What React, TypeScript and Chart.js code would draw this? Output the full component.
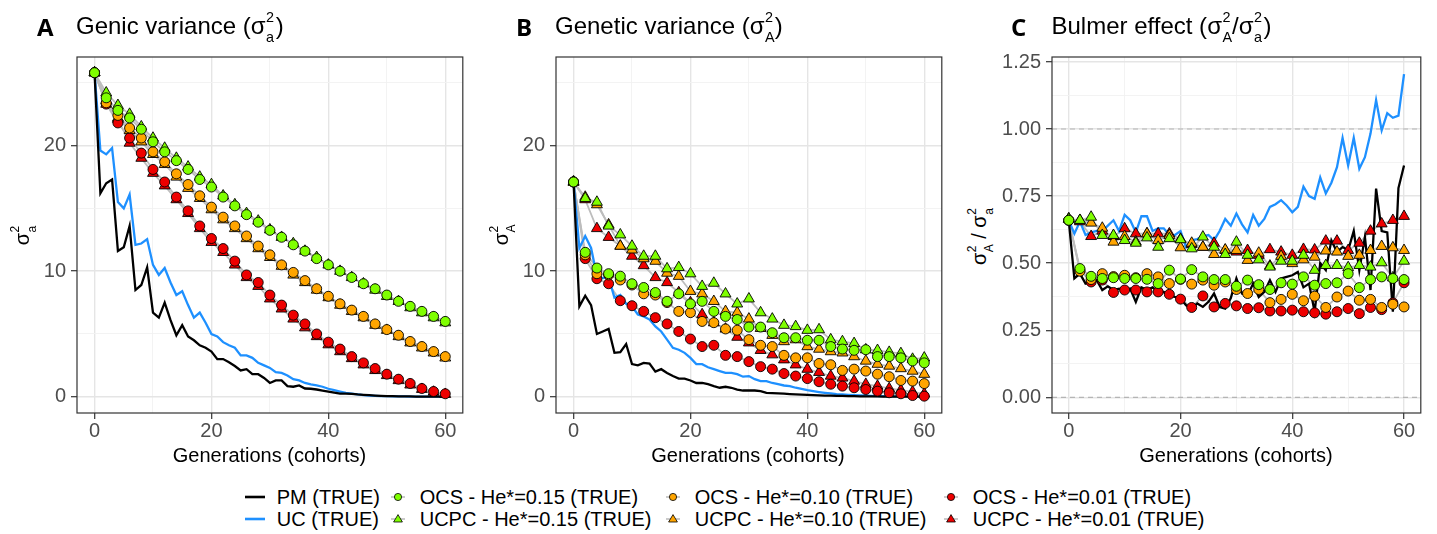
import React, { useEffect, useRef } from 'react';
import { Chart, registerables } from 'chart.js';

Chart.register(...registerables);

const FONT = "'Liberation Sans', Arial, Helvetica, sans-serif";

// ---------- categories ----------
const generations = [
  0, 1, 2, 3, 4, 5, 6, 7, 8, 9, 10, 11, 12, 13, 14, 15, 16, 17, 18, 19, 20,
  21, 22, 23, 24, 25, 26, 27, 28, 29, 30, 31, 32, 33, 34, 35, 36, 37, 38, 39, 40,
  41, 42, 43, 44, 45, 46, 47, 48, 49, 50, 51, 52, 53, 54, 55, 56, 57, 58, 59, 60,
];
const markerGenerations = [
  0, 2, 4, 6, 8, 10, 12, 14, 16, 18, 20, 22, 24, 26, 28, 30, 32, 34, 36, 38, 40,
  42, 44, 46, 48, 50, 52, 54, 56, 58, 60,
];

// ---------- Panel A: genic variance ----------
const pmA = [25.8, 16.2, 17.0, 17.3, 11.6, 11.9, 13.6, 8.5, 8.9, 10.3, 6.7, 6.3, 7.5, 6.1, 4.9, 5.7, 4.8, 4.5, 4.1, 3.9, 3.6, 3.0, 3.0, 2.75, 2.45, 2.1, 2.2, 1.8, 1.8, 1.5, 1.1, 1.3, 1.3, 0.85, 0.8, 0.9, 0.66, 0.64, 0.58, 0.5, 0.42, 0.34, 0.26, 0.26, 0.24, 0.19, 0.16, 0.13, 0.1, 0.08, 0.06, 0.05, 0.04, 0.03, 0.03, 0.02, 0.02, 0.01, 0.01, 0.01, 0.01];
const ucA = [25.8, 19.6, 19.3, 19.8, 15.5, 15.0, 16.1, 12.1, 12.2, 12.55, 10.5, 9.7, 10.25, 9.1, 8.1, 8.4, 7.3, 6.3, 6.7, 5.9, 5.0, 4.8, 4.35, 4.1, 3.9, 3.3, 3.3, 3.1, 2.7, 2.5, 2.3, 1.96, 1.9, 1.7, 1.4, 1.3, 1.1, 0.98, 0.9, 0.8, 0.64, 0.53, 0.42, 0.32, 0.26, 0.19, 0.13, 0.1, 0.08, 0.06, 0.05, 0.04, 0.03, 0.03, 0.02, 0.02, 0.02, 0.01, 0.01, 0.01, 0.01];
const ocs15A = [25.8, 23.8, 22.8, 22.2, 21.3, 20.3, 19.5, 18.8, 18.1, 17.3, 16.7, 15.9, 15.2, 14.5, 13.9, 13.25, 12.7, 12.1, 11.6, 11.0, 10.5, 10.0, 9.5, 9.0, 8.6, 8.1, 7.6, 7.2, 6.8, 6.4, 6.0];
const ucpc15A = [25.8, 24.2, 23.2, 22.5, 21.5, 20.6, 19.8, 19.0, 18.3, 17.5, 16.9, 16.0, 15.3, 14.6, 14.0, 13.3, 12.7, 12.2, 11.6, 11.1, 10.5, 10.0, 9.5, 9.0, 8.5, 8.0, 7.6, 7.1, 6.7, 6.3, 5.9];
const ocs10A = [25.8, 23.4, 22.4, 21.4, 20.6, 19.5, 18.7, 17.75, 16.9, 16.0, 15.1, 14.3, 13.6, 12.8, 12.0, 11.3, 10.5, 9.9, 9.25, 8.6, 8.0, 7.4, 6.9, 6.4, 5.8, 5.35, 4.9, 4.4, 4.0, 3.6, 3.2];
const ucpc10A = [25.8, 23.3, 22.2, 21.2, 20.3, 19.3, 18.5, 17.5, 16.6, 15.8, 14.9, 14.1, 13.4, 12.6, 11.8, 11.1, 10.4, 9.7, 9.1, 8.5, 7.9, 7.3, 6.8, 6.3, 5.7, 5.3, 4.8, 4.3, 3.9, 3.5, 3.1];
const ocs01A = [25.8, 23.3, 21.8, 20.6, 19.4, 18.1, 17.1, 15.9, 14.8, 13.6, 12.6, 11.8, 10.8, 9.7, 9.1, 8.1, 7.3, 6.5, 5.8, 5.0, 4.35, 3.8, 3.2, 2.7, 2.25, 1.8, 1.4, 1.06, 0.66, 0.42, 0.24];
const ucpc01A = [25.8, 23.6, 22.1, 20.2, 19.0, 17.8, 16.8, 15.7, 14.6, 13.4, 12.3, 11.5, 10.5, 9.5, 8.8, 7.8, 7.0, 6.2, 5.5, 4.8, 4.15, 3.6, 3.05, 2.55, 2.1, 1.7, 1.3, 0.95, 0.6, 0.38, 0.2];

// ---------- Panel B: genetic variance ----------
const pmB = [17.1, 7.2, 8.05, 7.3, 5.0, 5.2, 5.4, 3.5, 3.55, 4.2, 2.6, 2.5, 2.7, 2.65, 2.0, 2.2, 1.9, 1.65, 1.45, 1.45, 1.3, 1.1, 1.1, 1.0, 0.85, 0.72, 0.8, 0.72, 0.58, 0.5, 0.5, 0.5, 0.45, 0.32, 0.3, 0.28, 0.25, 0.22, 0.2, 0.18, 0.16, 0.14, 0.12, 0.1, 0.09, 0.08, 0.07, 0.06, 0.05, 0.04, 0.04, 0.03, 0.03, 0.02, 0.02, 0.02, 0.01, 0.01, 0.01, 0.01, 0.01];
const ucB = [17.1, 11.85, 12.8, 11.85, 9.6, 9.45, 9.5, 7.9, 8.1, 7.4, 7.2, 6.55, 6.4, 6.15, 5.6, 5.2, 4.55, 3.9, 3.75, 3.5, 3.1, 2.6, 2.6, 2.35, 2.2, 2.05, 1.9, 1.9, 1.8, 1.6, 1.65, 1.4, 1.25, 1.25, 1.1, 1.0, 0.9, 0.85, 0.72, 0.64, 0.53, 0.45, 0.38, 0.32, 0.27, 0.22, 0.19, 0.16, 0.13, 0.11, 0.09, 0.08, 0.06, 0.05, 0.05, 0.04, 0.03, 0.03, 0.02, 0.02, 0.02];
const ocs15B = [17.1, 11.5, 10.25, 9.8, 9.6, 9.0, 8.7, 8.3, 7.6, 8.2, 7.4, 7.6, 6.8, 6.4, 6.15, 5.55, 5.55, 5.1, 4.7, 4.7, 4.5, 4.5, 4.0, 3.8, 3.7, 3.75, 3.2, 3.2, 3.1, 2.85, 2.7];
const ucpc15B = [17.1, 15.8, 15.5, 13.6, 12.9, 12.0, 11.2, 11.2, 10.2, 10.3, 9.8, 8.8, 9.05, 8.2, 7.4, 7.8, 6.7, 6.2, 5.7, 5.6, 5.3, 5.35, 4.55, 4.4, 4.25, 3.75, 3.7, 3.55, 3.45, 3.0, 3.1];
const ocs10B = [17.1, 11.3, 9.8, 9.7, 9.3, 8.9, 8.2, 8.1, 7.5, 6.8, 6.7, 6.0, 5.9, 5.4, 5.3, 4.55, 4.1, 4.0, 3.3, 3.1, 3.1, 2.65, 2.55, 2.1, 2.2, 2.05, 1.8, 1.6, 1.3, 1.25, 1.05];
const ucpc10B = [17.1, 15.9, 15.3, 13.7, 12.0, 11.7, 11.0, 10.8, 9.85, 9.6, 8.4, 8.2, 7.6, 6.8, 6.7, 6.2, 5.45, 4.9, 4.4, 4.55, 4.0, 3.8, 3.6, 3.5, 3.2, 2.85, 2.6, 2.45, 2.25, 2.05, 1.8];
const ocs01B = [17.1, 11.0, 9.4, 9.0, 7.65, 7.25, 6.8, 6.3, 5.8, 5.2, 4.6, 4.0, 4.1, 3.3, 3.2, 2.8, 2.4, 2.2, 1.85, 1.65, 1.45, 1.2, 1.0, 0.85, 0.72, 0.58, 0.45, 0.32, 0.24, 0.1, 0.05];
const ucpc01B = [17.1, 15.7, 13.4, 12.7, 12.0, 11.2, 10.45, 9.5, 9.1, 8.3, 7.5, 6.55, 5.9, 5.4, 4.75, 4.3, 3.7, 3.35, 2.95, 2.55, 2.2, 1.95, 1.65, 1.5, 1.25, 1.0, 0.85, 0.66, 0.53, 0.4, 0.24];

// ---------- Panel C: Bulmer effect ----------
const pmC = [0.66, 0.443, 0.461, 0.424, 0.43, 0.437, 0.4, 0.414, 0.4, 0.405, 0.4, 0.405, 0.356, 0.41, 0.4, 0.41, 0.393, 0.393, 0.38, 0.374, 0.368, 0.343, 0.331, 0.35, 0.337, 0.356, 0.387, 0.337, 0.331, 0.37, 0.443, 0.387, 0.38, 0.424, 0.374, 0.393, 0.437, 0.393, 0.443, 0.449, 0.455, 0.467, 0.41, 0.424, 0.319, 0.5, 0.474, 0.585, 0.542, 0.56, 0.548, 0.62, 0.474, 0.598, 0.4, 0.778, 0.62, 0.615, 0.319, 0.78, 0.864];
const ucC = [0.66, 0.61, 0.655, 0.605, 0.615, 0.62, 0.62, 0.64, 0.66, 0.62, 0.68, 0.66, 0.615, 0.675, 0.675, 0.62, 0.63, 0.63, 0.605, 0.605, 0.62, 0.56, 0.585, 0.59, 0.6, 0.605, 0.585, 0.62, 0.665, 0.64, 0.685, 0.645, 0.615, 0.68, 0.64, 0.665, 0.71, 0.72, 0.735, 0.715, 0.69, 0.71, 0.785, 0.75, 0.74, 0.82, 0.76, 0.8, 0.858, 0.967, 0.864, 0.967, 0.852, 0.895, 0.983, 1.108, 0.995, 1.059, 1.042, 1.05, 1.205];
const ocs15C = [0.66, 0.48, 0.451, 0.443, 0.446, 0.443, 0.443, 0.44, 0.424, 0.474, 0.441, 0.476, 0.449, 0.439, 0.439, 0.414, 0.437, 0.42, 0.402, 0.427, 0.422, 0.449, 0.418, 0.424, 0.427, 0.461, 0.409, 0.439, 0.449, 0.443, 0.439];
const ucpc15C = [0.665, 0.66, 0.672, 0.604, 0.604, 0.585, 0.575, 0.595, 0.56, 0.592, 0.588, 0.554, 0.598, 0.56, 0.533, 0.579, 0.53, 0.513, 0.486, 0.508, 0.508, 0.53, 0.474, 0.492, 0.492, 0.484, 0.492, 0.486, 0.502, 0.446, 0.508];
const ocs10C = [0.66, 0.47, 0.439, 0.461, 0.45, 0.455, 0.446, 0.461, 0.449, 0.424, 0.44, 0.422, 0.437, 0.418, 0.43, 0.402, 0.387, 0.402, 0.353, 0.365, 0.384, 0.36, 0.377, 0.335, 0.374, 0.396, 0.362, 0.365, 0.335, 0.347, 0.337];
const ucpc10C = [0.665, 0.66, 0.65, 0.631, 0.579, 0.6, 0.58, 0.61, 0.585, 0.604, 0.558, 0.575, 0.56, 0.533, 0.55, 0.548, 0.511, 0.538, 0.49, 0.526, 0.499, 0.513, 0.523, 0.546, 0.542, 0.526, 0.53, 0.548, 0.563, 0.558, 0.548];
const ocs01C = [0.66, 0.474, 0.43, 0.437, 0.391, 0.4, 0.4, 0.393, 0.393, 0.384, 0.366, 0.335, 0.378, 0.337, 0.35, 0.341, 0.331, 0.334, 0.322, 0.322, 0.325, 0.319, 0.315, 0.31, 0.319, 0.331, 0.312, 0.335, 0.327, 0.352, 0.427];
const ucpc01C = [0.665, 0.655, 0.6, 0.62, 0.6, 0.629, 0.61, 0.61, 0.61, 0.61, 0.59, 0.57, 0.56, 0.575, 0.548, 0.542, 0.548, 0.53, 0.551, 0.542, 0.53, 0.552, 0.55, 0.583, 0.583, 0.548, 0.575, 0.62, 0.647, 0.66, 0.675];

// ---------- tick values ----------
const xMajorTicks = [0, 20, 40, 60];
const xMinorTicks = [10, 30, 50];
const varMajorTicks = [0, 10, 20];
const varMinorTicks = [5, 15, 25];
const ratioMajorTicks = [0, 0.25, 0.5, 0.75, 1, 1.25];
const ratioMinorTicks = [0.125, 0.375, 0.625, 0.875, 1.125];
const ratioRefLines = [0, 1];

// ---------- series styles ----------
const GREEN = '#7FFF00';
const ORANGE = '#FFA500';
const RED = '#EE0000';
const BLUE = '#1E90FF';
const GREY_LINE = '#bdbdbd';

type MarkerKey = 'ocs15' | 'ocs10' | 'ocs01' | 'ucpc15' | 'ucpc10' | 'ucpc01';
const markerSeries: { key: MarkerKey; label: string; color: string; shape: 'circle' | 'triangle' }[] = [
  { key: 'ocs15', label: 'OCS - He*=0.15 (TRUE)', color: GREEN, shape: 'circle' },
  { key: 'ocs10', label: 'OCS - He*=0.10 (TRUE)', color: ORANGE, shape: 'circle' },
  { key: 'ocs01', label: 'OCS - He*=0.01 (TRUE)', color: RED, shape: 'circle' },
  { key: 'ucpc15', label: 'UCPC - He*=0.15 (TRUE)', color: GREEN, shape: 'triangle' },
  { key: 'ucpc10', label: 'UCPC - He*=0.10 (TRUE)', color: ORANGE, shape: 'triangle' },
  { key: 'ucpc01', label: 'UCPC - He*=0.01 (TRUE)', color: RED, shape: 'triangle' },
];

type PanelSpec = {
  pm: number[];
  uc: number[];
  markers: Record<MarkerKey, number[]>;
  yMin: number;
  yMax: number;
  yMajor: number[];
  yMinor: number[];
  decimals: number;
  refLines: number[];
  left: number;
  width: number;
  yAxisWidth: number;
};

const CANVAS_TOP = 32;
const CANVAS_H = 426;

const panels: PanelSpec[] = [
  {
    pm: pmA, uc: ucA,
    markers: { ocs15: ocs15A, ocs10: ocs10A, ocs01: ocs01A, ucpc15: ucpc15A, ucpc10: ucpc10A, ucpc01: ucpc01A },
    yMin: -1.29, yMax: 27.05, yMajor: varMajorTicks, yMinor: varMinorTicks, decimals: 0, refLines: [],
    left: 20, width: 450, yAxisWidth: 57,
  },
  {
    pm: pmB, uc: ucB,
    markers: { ocs15: ocs15B, ocs10: ocs10B, ocs01: ocs01B, ucpc15: ucpc15B, ucpc10: ucpc10B, ucpc01: ucpc01B },
    yMin: -1.29, yMax: 27.05, yMajor: varMajorTicks, yMinor: varMinorTicks, decimals: 0, refLines: [],
    left: 500, width: 449, yAxisWidth: 56,
  },
  {
    pm: pmC, uc: ucC,
    markers: { ocs15: ocs15C, ocs10: ocs10C, ocs01: ocs01C, ucpc15: ucpc15C, ucpc10: ucpc10C, ucpc01: ucpc01C },
    yMin: -0.0584, yMax: 1.2686, yMajor: ratioMajorTicks, yMinor: ratioMinorTicks, decimals: 2, refLines: ratioRefLines,
    left: 1000, width: 428, yAxisWidth: 52,
  },
];

const isIn = (v: number, list: number[]) => list.some((m) => Math.abs(m - v) < 1e-9);
const pair = (xs: number[], ys: number[]) => xs.map((x, i) => ({ x, y: ys[i] }));

const borderPlugin = {
  id: 'panelBorder',
  afterDraw(chart: any) {
    const { ctx, chartArea } = chart;
    ctx.save();
    ctx.strokeStyle = '#333333';
    ctx.lineWidth = 1.2;
    ctx.strokeRect(chartArea.left, chartArea.top, chartArea.right - chartArea.left, chartArea.bottom - chartArea.top);
    ctx.restore();
  },
};

const refLinePlugin = {
  id: 'refLines',
  beforeDatasetsDraw(chart: any, _args: any, opts: any) {
    const values: number[] = (opts && opts.values) || [];
    if (!values.length) return;
    const { ctx, chartArea } = chart;
    const yScale = chart.scales.y;
    ctx.save();
    ctx.strokeStyle = '#b5b5b5';
    ctx.lineWidth = 1.1;
    ctx.setLineDash([5, 4]);
    values.forEach((v) => {
      const py = yScale.getPixelForValue(v);
      ctx.beginPath();
      ctx.moveTo(chartArea.left, py);
      ctx.lineTo(chartArea.right, py);
      ctx.stroke();
    });
    ctx.restore();
  },
};

function buildConfig(spec: PanelSpec): any {
  const xTicks = [...xMajorTicks, ...xMinorTicks].sort((a, b) => a - b);
  const yTicks = [...spec.yMajor, ...spec.yMinor].sort((a, b) => a - b);

  const markerDatasets = markerSeries.map((s) => ({
    label: s.label,
    data: pair(markerGenerations, spec.markers[s.key]),
    showLine: false,
    pointStyle: s.shape,
    pointRadius: s.shape === 'triangle' ? 6.3 : 5,
    pointBackgroundColor: s.color,
    pointBorderColor: '#000000',
    pointBorderWidth: 0.9,
    order: 0,
  }));
  const greyDatasets = markerSeries.map((s) => ({
    label: s.label + ' line',
    data: pair(markerGenerations, spec.markers[s.key]),
    borderColor: GREY_LINE,
    borderWidth: 1.8,
    pointRadius: 0,
    tension: 0,
    order: 2,
  }));
  const lineDatasets = [
    { label: 'PM (TRUE)', data: pair(generations, spec.pm), borderColor: '#000000', borderWidth: 2.3, pointRadius: 0, tension: 0, order: 1 },
    { label: 'UC (TRUE)', data: pair(generations, spec.uc), borderColor: BLUE, borderWidth: 2.3, pointRadius: 0, tension: 0, order: 1 },
  ];

  const gridFor = (majors: number[]) => ({
    color: (c: any) => (c.tick && isIn(c.tick.value, majors) ? '#e5e5e5' : '#f2f2f2'),
    lineWidth: (c: any) => (c.tick && isIn(c.tick.value, majors) ? 1.4 : 0.9),
    tickColor: (c: any) => (c.tick && isIn(c.tick.value, majors) ? '#333333' : 'rgba(0,0,0,0)'),
    tickWidth: 1.2,
    tickLength: 6,
  });

  return {
    type: 'line',
    data: { datasets: [...markerDatasets, ...lineDatasets, ...greyDatasets] },
    options: {
      animation: false,
      responsive: false,
      maintainAspectRatio: false,
      devicePixelRatio: 1,
      events: [],
      layout: { padding: { top: 25, right: 2, bottom: 0, left: 0 } },
      plugins: {
        legend: { display: false },
        tooltip: { enabled: false },
        title: { display: false },
        refLines: { values: spec.refLines },
      },
      scales: {
        x: {
          type: 'linear',
          min: -3,
          max: 63,
          afterBuildTicks: (s: any) => {
            s.ticks = xTicks.map((v) => ({ value: v }));
          },
          afterFit: (s: any) => {
            s.height = 45;
          },
          border: { display: false },
          grid: gridFor(xMajorTicks),
          ticks: {
            autoSkip: false,
            maxRotation: 0,
            padding: 0,
            color: '#4d4d4d',
            font: { family: FONT, size: 20 },
            callback: (v: number) => (isIn(v, xMajorTicks) ? String(v) : ''),
          },
        },
        y: {
          type: 'linear',
          min: spec.yMin,
          max: spec.yMax,
          afterBuildTicks: (s: any) => {
            s.ticks = yTicks.map((v) => ({ value: v }));
          },
          afterFit: (s: any) => {
            s.width = spec.yAxisWidth;
          },
          border: { display: false },
          grid: gridFor(spec.yMajor),
          ticks: {
            autoSkip: false,
            padding: 5,
            color: '#4d4d4d',
            font: { family: FONT, size: 20 },
            callback: (v: number) => (isIn(v, spec.yMajor) ? v.toFixed(spec.decimals) : ''),
          },
        },
      },
    },
    plugins: [refLinePlugin, borderPlugin],
  };
}

function PanelChart({ spec }: { spec: PanelSpec }) {
  const ref = useRef<HTMLCanvasElement | null>(null);
  useEffect(() => {
    if (!ref.current) return;
    const chart = new Chart(ref.current, buildConfig(spec));
    return () => chart.destroy();
  }, [spec]);
  return (
    <canvas
      ref={ref}
      width={spec.width}
      height={CANVAS_H}
      style={{ position: 'absolute', left: spec.left, top: CANVAS_TOP, width: spec.width, height: CANVAS_H }}
    />
  );
}

// sigma with stacked superscript 2 and a subscript
function Sig({ sub, size }: { sub: string; size: number }) {
  const small = size * 0.6;
  return (
    <span style={{ whiteSpace: 'nowrap' }}>
      σ
      <span
        style={{
          display: 'inline-block',
          position: 'relative',
          width: small * 0.7,
          height: 0,
          verticalAlign: 'baseline',
        }}
      >
        <span style={{ position: 'absolute', left: 0.5, top: -0.99 * size, fontSize: small, lineHeight: `${small}px` }}>2</span>
        <span style={{ position: 'absolute', left: 0.5, top: -0.17 * size, fontSize: small, lineHeight: `${small}px` }}>{sub}</span>
      </span>
    </span>
  );
}

const abs = (left: number, top: number, extra: React.CSSProperties = {}): React.CSSProperties => ({
  position: 'absolute',
  left,
  top,
  whiteSpace: 'nowrap',
  ...extra,
});

const tagStyle: React.CSSProperties = { fontFamily: "'Open Sans', 'Liberation Sans', sans-serif", fontWeight: 700, fontSize: 24, lineHeight: '24px' };
const titleStyle: React.CSSProperties = { fontSize: 24, lineHeight: '24px', color: '#000' };
const axisTitleStyle: React.CSSProperties = { fontSize: 20, lineHeight: '20px', color: '#000' };

function RotatedLabel({ cx, cy, children }: { cx: number; cy: number; children: React.ReactNode }) {
  return (
    <div style={abs(cx, cy, { ...axisTitleStyle, transform: 'translate(-50%, -50%) rotate(-90deg)' })}>{children}</div>
  );
}

function XTitle({ cx }: { cx: number }) {
  return (
    <div style={abs(cx, 444.5, { ...axisTitleStyle, transform: 'translateX(-50%)' })}>Generations (cohorts)</div>
  );
}

type LegendItem = { label: string; kind: 'line' | 'circle' | 'triangle'; color: string };
const legendItems: LegendItem[] = [
  { label: 'PM (TRUE)', kind: 'line', color: '#000000' },
  { label: 'OCS - He*=0.15 (TRUE)', kind: 'circle', color: GREEN },
  { label: 'OCS - He*=0.10 (TRUE)', kind: 'circle', color: ORANGE },
  { label: 'OCS - He*=0.01 (TRUE)', kind: 'circle', color: RED },
  { label: 'UC (TRUE)', kind: 'line', color: BLUE },
  { label: 'UCPC - He*=0.15 (TRUE)', kind: 'triangle', color: GREEN },
  { label: 'UCPC - He*=0.10 (TRUE)', kind: 'triangle', color: ORANGE },
  { label: 'UCPC - He*=0.01 (TRUE)', kind: 'triangle', color: RED },
];

function LegendKey({ item }: { item: LegendItem }) {
  return (
    <svg width={20} height={20} style={{ display: 'block', flex: '0 0 auto' }}>
      {item.kind === 'line' ? (
        <line x1={0} y1={10} x2={20} y2={10} stroke={item.color} strokeWidth={2.6} />
      ) : (
        <>
          <line x1={3} y1={10} x2={17} y2={10} stroke={GREY_LINE} strokeWidth={1.6} />
          {item.kind === 'circle' ? (
            <circle cx={10} cy={10} r={3.6} fill={item.color} stroke="#000" strokeWidth={0.8} />
          ) : (
            <polygon points="10,5.6 14.4,13 5.6,13" fill={item.color} stroke="#000" strokeWidth={0.8} />
          )}
        </>
      )}
    </svg>
  );
}

export default function App() {
  useEffect(() => {
    document.body.style.margin = '0';
  }, []);
  return (
    <div
      style={{
        position: 'absolute',
        left: 0,
        top: 0,
        width: 1437,
        height: 534,
        overflow: 'hidden',
        background: '#ffffff',
        fontFamily: FONT,
        color: '#000',
      }}
    >
      {panels.map((p, i) => (
        <PanelChart key={i} spec={p} />
      ))}

      {/* panel tags and titles */}
      <div style={abs(37, 14.7, tagStyle)}>A</div>
      <div style={abs(76, 14, titleStyle)}>
        Genic variance (<Sig sub="a" size={24} />)
      </div>
      <div style={abs(516, 14.7, tagStyle)}>B</div>
      <div style={abs(555, 14, titleStyle)}>
        Genetic variance (<Sig sub="A" size={24} />)
      </div>
      <div style={abs(1011, 14.7, tagStyle)}>C</div>
      <div style={abs(1051.5, 14, titleStyle)}>
        Bulmer effect (<Sig sub="A" size={24} />/<Sig sub="a" size={24} />)
      </div>

      {/* y axis titles */}
      <RotatedLabel cx={22} cy={235}>
        <Sig sub="a" size={20} />
      </RotatedLabel>
      <RotatedLabel cx={500.5} cy={235}>
        <Sig sub="A" size={20} />
      </RotatedLabel>
      <RotatedLabel cx={979} cy={236}>
        <Sig sub="A" size={20} /> / <Sig sub="a" size={20} />
      </RotatedLabel>

      {/* x axis titles */}
      <XTitle cx={269.5} />
      <XTitle cx={748} />
      <XTitle cx={1236} />

      {/* legend */}
      <div
        style={{
          position: 'absolute',
          left: 245,
          top: 486,
          display: 'grid',
          gridTemplateColumns: '143px 275px 278px auto',
          gridAutoRows: '22px',
          fontSize: 20,
          lineHeight: '22px',
        }}
      >
        {legendItems.map((item) => (
          <div key={item.label} style={{ display: 'flex', alignItems: 'center', whiteSpace: 'nowrap' }}>
            <LegendKey item={item} />
            <span style={{ marginLeft: 11.7 }}>{item.label}</span>
          </div>
        ))}
      </div>
    </div>
  );
}
